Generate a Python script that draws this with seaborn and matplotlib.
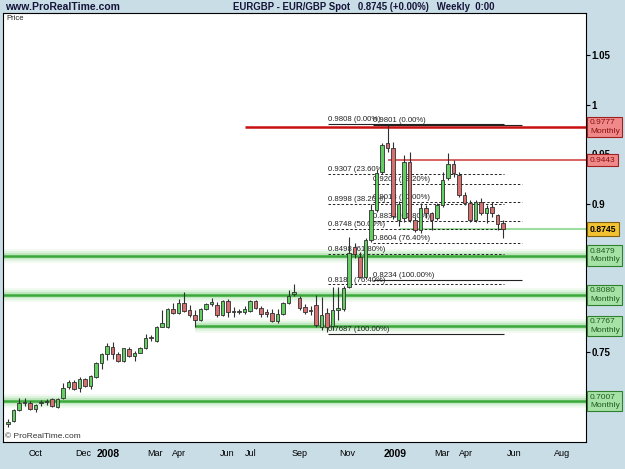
import matplotlib
matplotlib.use("Agg")
import matplotlib.pyplot as plt
import numpy as np
import pandas as pd
import seaborn as sns

# ---------------- data ----------------
first_week = "2007-08-27"
opens = [0.678, 0.681, 0.692, 0.699, 0.699, 0.693, 0.699, 0.6995, 0.703, 0.695,
         0.704, 0.715, 0.720, 0.714, 0.723, 0.716, 0.725, 0.739, 0.7485, 0.7556,
         0.7485, 0.7414, 0.7535, 0.7465, 0.7495, 0.7545, 0.7656, 0.7616, 0.7758, 0.7758,
         0.794, 0.790, 0.800, 0.793, 0.788, 0.783, 0.794, 0.799, 0.798, 0.788,
         0.802, 0.792, 0.791, 0.791, 0.792, 0.802, 0.795, 0.7905, 0.790, 0.782,
         0.789, 0.800, 0.809, 0.805, 0.796, 0.7925, 0.798, 0.776, 0.790, 0.777,
         0.793, 0.794, 0.816, 0.857, 0.846, 0.826, 0.864, 0.894, 0.932, 0.962,
         0.957, 0.884, 0.886, 0.942, 0.884, 0.874, 0.896, 0.891, 0.886, 0.899,
         0.926, 0.940, 0.929, 0.909, 0.901, 0.884, 0.902, 0.891, 0.897, 0.889,
         0.881]
highs = [0.683, 0.693, 0.704, 0.704, 0.701, 0.698, 0.702, 0.703, 0.704, 0.704,
         0.719, 0.722, 0.722, 0.725, 0.724, 0.727, 0.740, 0.749, 0.760, 0.761,
         0.750, 0.755, 0.7556, 0.7515, 0.7556, 0.7687, 0.7677, 0.7768, 0.7929, 0.795,
         0.800, 0.804, 0.811, 0.798, 0.793, 0.795, 0.800, 0.805, 0.801, 0.803,
         0.804, 0.796, 0.794, 0.797, 0.803, 0.803, 0.797, 0.794, 0.794, 0.794,
         0.801, 0.813, 0.819, 0.807, 0.799, 0.797, 0.808, 0.806, 0.795, 0.816,
         0.816, 0.817, 0.867, 0.861, 0.851, 0.866, 0.900, 0.935, 0.962, 0.9801,
         0.963, 0.903, 0.949, 0.9525, 0.887, 0.901, 0.899, 0.892, 0.901, 0.932,
         0.9515, 0.944, 0.932, 0.912, 0.904, 0.904, 0.906, 0.899, 0.902, 0.890,
         0.884]
lows = [0.675, 0.680, 0.691, 0.696, 0.692, 0.690, 0.696, 0.697, 0.695, 0.694,
        0.703, 0.713, 0.712, 0.710, 0.715, 0.713, 0.724, 0.733, 0.742, 0.743,
        0.740, 0.740, 0.7455, 0.7414, 0.749, 0.7535, 0.7616, 0.7606, 0.7758, 0.775,
        0.789, 0.789, 0.791, 0.786, 0.776, 0.782, 0.793, 0.797, 0.786, 0.787,
        0.786, 0.786, 0.789, 0.789, 0.791, 0.794, 0.786, 0.786, 0.781, 0.780,
        0.788, 0.799, 0.807, 0.793, 0.789, 0.788, 0.776, 0.773, 0.771, 0.773,
        0.783, 0.792, 0.815, 0.845, 0.825, 0.824, 0.862, 0.892, 0.930, 0.953,
        0.885, 0.878, 0.882, 0.882, 0.872, 0.871, 0.886, 0.874, 0.884, 0.897,
        0.924, 0.927, 0.907, 0.899, 0.882, 0.882, 0.889, 0.881, 0.887, 0.874,
        0.866]
closes = [0.680, 0.692, 0.699, 0.700, 0.693, 0.697, 0.700, 0.701, 0.696, 0.703,
          0.714, 0.720, 0.713, 0.723, 0.716, 0.726, 0.739, 0.748, 0.7566, 0.7485,
          0.7414, 0.7545, 0.7465, 0.7495, 0.7545, 0.7646, 0.7646, 0.7758, 0.7798, 0.794,
          0.790, 0.800, 0.792, 0.788, 0.783, 0.794, 0.799, 0.801, 0.788, 0.802,
          0.791, 0.791, 0.792, 0.794, 0.802, 0.795, 0.789, 0.789, 0.782, 0.789,
          0.800, 0.807, 0.811, 0.795, 0.791, 0.7915, 0.778, 0.788, 0.776, 0.793,
          0.795, 0.815, 0.850, 0.849, 0.826, 0.864, 0.894, 0.931, 0.960, 0.957,
          0.888, 0.900, 0.942, 0.884, 0.874, 0.896, 0.891, 0.884, 0.899, 0.924,
          0.940, 0.931, 0.909, 0.901, 0.884, 0.902, 0.891, 0.896, 0.891, 0.880,
          0.8745]

# support / resistance lines
sr_levels = [0.9777, 0.9443, 0.8479, 0.8080, 0.7767, 0.7007]
sr_starts = ["2008-06-23", "2008-12-22", None, None, "2008-04-21", None]
sr_kind = ["red", "red1", "green", "green", "green", "green"]
sr_labels = ["0.9777\nMonthly", "0.9443", "0.8479\nMonthly", "0.8080\nMonthly",
             "0.7767\nMonthly", "0.7007\nMonthly"]
last_price = 0.8745
last_start = "2009-01-07"

# fibonacci retracements
fib1_levels = [0.9808, 0.9307, 0.8998, 0.8748, 0.8498, 0.8188, 0.7687]
fib1_pcts = [0.00, 23.60, 38.20, 50.00, 61.80, 76.40, 100.00]
fib1_span = ["2008-10-07", "2009-05-19"]
fib2_levels = [0.9801, 0.9203, 0.9018, 0.8833, 0.8604, 0.8234]
fib2_pcts = [0.00, 38.20, 50.00, 61.80, 76.40, 100.00]
fib2_span = ["2008-12-04", "2009-06-11"]

tick_dates = ["2007-10-01", "2007-12-01", "2008-01-01", "2008-03-01", "2008-04-01",
              "2008-06-01", "2008-07-01", "2008-09-01", "2008-11-01", "2009-01-01",
              "2009-03-01", "2009-04-01", "2009-06-01", "2009-08-01"]
tick_labels = ["Oct", "Dec", "2008", "Mar", "Apr", "Jun", "Jul", "Sep", "Nov", "2009",
               "Mar", "Apr", "Jun", "Aug"]
y_ticks = [0.70, 0.75, 0.80, 0.85, 0.90, 0.95, 1.00, 1.05]
y_ticklabels = ["", "0.75", "", "", "0.9", "0.95", "1", "1.05"]

# ---------------- style ----------------
sns.set_style("white")
plt.rcParams["font.family"] = ["Liberation Sans", "DejaVu Sans"]

df = pd.DataFrame({
    "date": pd.date_range(first_week, periods=len(opens), freq="7D"),
    "open": opens, "high": highs, "low": lows, "close": closes,
})
df["up"] = df["close"] >= df["open"]

W, H = 625, 469
fig = plt.figure(figsize=(W / 100, H / 100), dpi=100)
fig.patch.set_facecolor("#c9dde7")
L, R, T, B = 3, 586, 13, 442
ax = fig.add_axes([L / W, 1 - B / H, (R - L) / W, (B - T) / H])
ax.set_facecolor("white")

x0 = pd.Timestamp("2008-01-01")
xmin = x0 + pd.Timedelta(days=-133.4)
xmax = x0 + pd.Timedelta(days=608.6)
ax.set_xlim(xmin, xmax)
ax.set_ylim(0.6596, 1.0929)

# support / resistance
for lvl, st, kind in zip(sr_levels, sr_starts, sr_kind):
    xs = xmin if st is None else pd.Timestamp(st)
    if kind == "green":
        for lw, a in [(10, 0.10), (7, 0.18), (4, 0.35)]:
            ax.hlines(lvl, xs, xmax, colors="#7fd07f", lw=lw, alpha=a, zorder=1)
        ax.hlines(lvl, xs, xmax, colors="#3aa83a", lw=1.8, zorder=2)
    elif kind == "red":
        ax.hlines(lvl, xs, xmax, colors="#c81010", lw=1.8, zorder=2)
    else:
        ax.hlines(lvl, xs, xmax, colors="#d04848", lw=1.2, zorder=2)
ax.hlines(last_price, pd.Timestamp(last_start), xmax, colors="#9fdc9f", lw=1.5, zorder=2)

# fibonacci
def draw_fib(levels, pcts, span):
    a, b = pd.Timestamp(span[0]), pd.Timestamp(span[1])
    for lvl, p in zip(levels, pcts):
        solid = (p == 0.0 or p == 100.0)
        ax.hlines(lvl, a, b, colors="#222222", lw=0.8 if solid else 0.7,
                  linestyles="solid" if solid else (0, (2.5, 2)), zorder=2)
        ax.text(a, lvl + 0.0008, f"{lvl:.4f} ({p:.2f}%)", fontsize=5.6,
                color="#222222", ha="left", va="bottom", zorder=2)

draw_fib(fib1_levels, fib1_pcts, fib1_span)
draw_fib(fib2_levels, fib2_pcts, fib2_span)

# candles
ax.vlines(df["date"], df["low"], df["high"], colors="#303030", lw=0.8, zorder=3)
body_low = np.minimum(df["open"], df["close"])
body_h = np.maximum(np.abs(df["close"] - df["open"]), 0.0009)
colors = np.where(df["up"], "#63cf63", "#d66f6f")
ax.bar(df["date"], body_h, bottom=body_low, width=4.9, color=colors,
       edgecolor="#303030", linewidth=0.6, zorder=4)

# axes styling
for s in ax.spines.values():
    s.set_color("black")
    s.set_linewidth(0.8)
ax.yaxis.tick_right()
ax.set_yticks(y_ticks)
ax.set_yticklabels(y_ticklabels)
ax.tick_params(axis="y", direction="out", length=3, width=0.8, pad=1,
               labelsize=7, colors="black")
for t in ax.get_yticklabels():
    t.set_fontweight("bold")
ax.set_xticks([pd.Timestamp(d) for d in tick_dates])
ax.set_xticklabels(tick_labels)
ax.tick_params(axis="x", direction="out", length=3, width=0.8, pad=2,
               labelsize=6.5, colors="black")
for t in ax.get_xticklabels():
    if t.get_text() in ("2008", "2009"):
        t.set_fontweight("bold")
        t.set_fontsize(7.5)
ax.grid(False)

# right-hand price boxes
ytr = ax.get_yaxis_transform()
bx = (590 - L) / (R - L)
styles = {
    "red": dict(fc="#f08a8a", ec="#a02020", tc="#8a1010"),
    "red1": dict(fc="#f08a8a", ec="#a02020", tc="#8a1010"),
    "green": dict(fc="#a6e2a6", ec="#2f7f2f", tc="#1f5a1f"),
}
for lvl, kind, lab in zip(sr_levels, sr_kind, sr_labels):
    st = styles[kind]
    ax.text(bx, lvl, lab, transform=ytr, fontsize=6, color=st["tc"], ha="left",
            va="center", linespacing=1.25, zorder=10, clip_on=False,
            bbox=dict(boxstyle="square,pad=0.3", fc=st["fc"], ec=st["ec"], lw=0.8))
ax.text(bx, last_price, f"{last_price:.4f}", transform=ytr, fontsize=6.2, color="black",
        fontweight="bold", ha="left", va="center", zorder=10, clip_on=False,
        bbox=dict(boxstyle="square,pad=0.3", fc="#f2c230", ec="#806010", lw=0.8))

# texts
fig.text(5 / W, 1 - 7 / H, "www.ProRealTime.com", fontsize=7.5, fontweight="bold",
         color="#141438", ha="left", va="center")
fig.text(364 / W, 1 - 7 / H, "EURGBP - EUR/GBP Spot   0.8745 (+0.00%)   Weekly  0:00",
         fontsize=6.9, fontweight="bold", color="#141438", ha="center", va="center")
ax.text(3 / (R - L), 1 - 6 / (B - T), "Price", transform=ax.transAxes, fontsize=5.5,
        ha="left", va="center", color="#222222")
ax.text(2 / (R - L), 6 / (B - T), "© ProRealTime.com", transform=ax.transAxes,
        fontsize=6, ha="left", va="center", color="#333333")

fig.savefig("out.png", dpi=100, facecolor=fig.get_facecolor())
